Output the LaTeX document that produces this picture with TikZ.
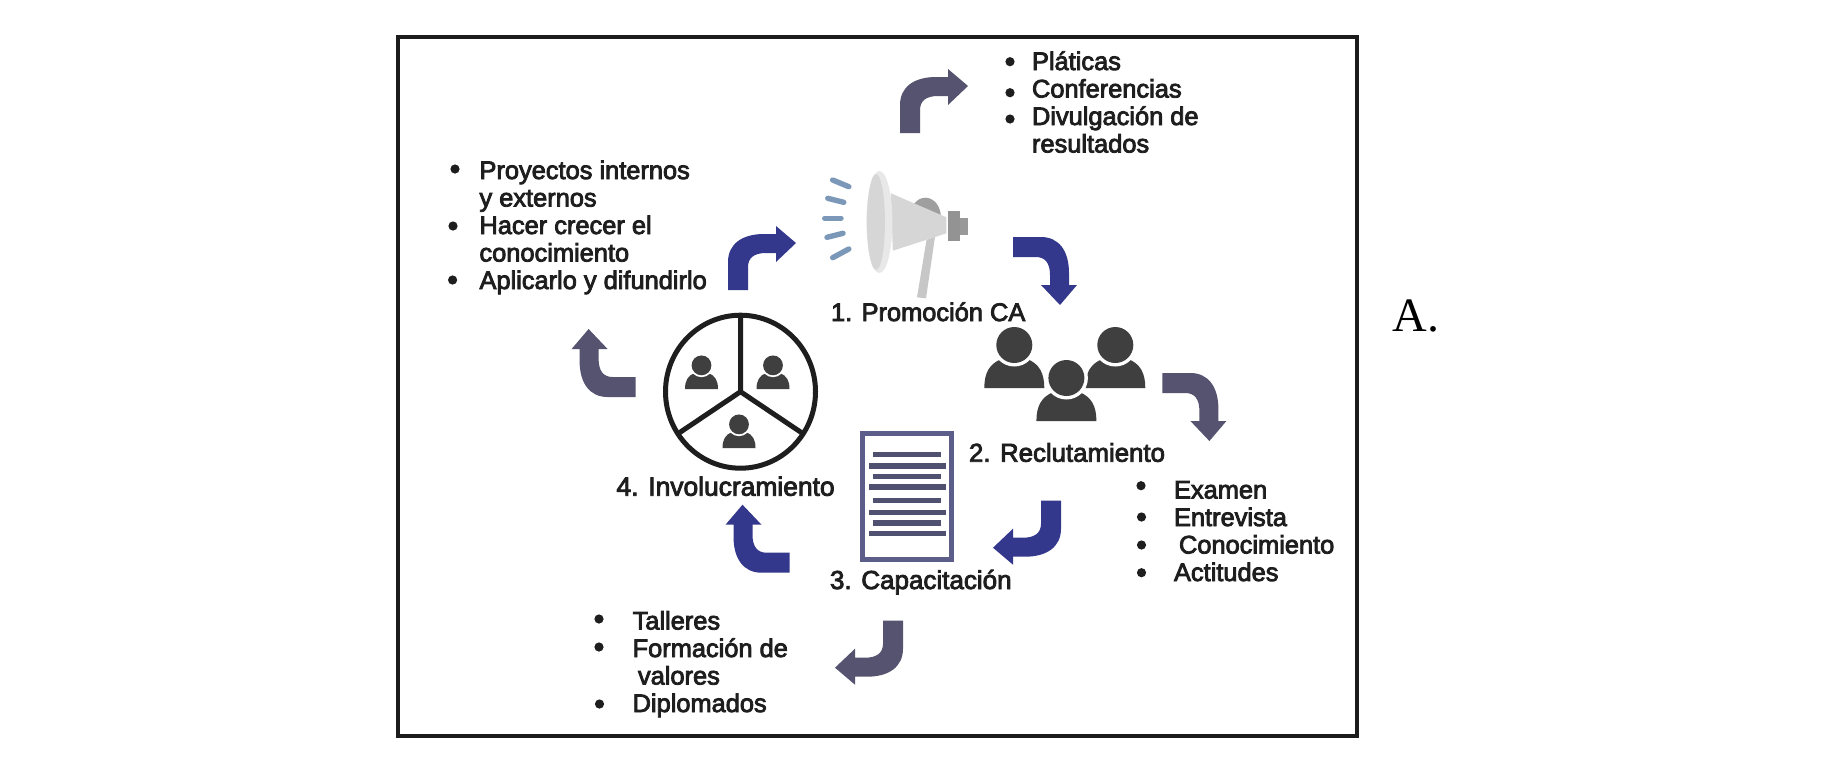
\documentclass[tikz,border=0pt]{standalone}
\usepackage{fontspec}
\setmainfont{Liberation Sans}[FakeBold=3.2]
\newfontfamily\serifA{Liberation Serif}
\definecolor{bluearrow}{HTML}{34388C}
\definecolor{grayarrow}{HTML}{55536F}
\definecolor{framecol}{HTML}{1C1C1C}
\definecolor{inkcol}{HTML}{1E1E1E}
\definecolor{personcol}{HTML}{3F3F3F}
\definecolor{docborder}{HTML}{5D5D8A}
\definecolor{docline}{HTML}{505070}
\definecolor{tickcol}{HTML}{7B98B8}
\tikzset{
  txt/.style={anchor=base west,inner sep=0pt,outer sep=0pt,text=inkcol,align=left,font=\fontsize{12.7}{13.75}\selectfont},
  dot/.style={circle,fill=inkcol,draw=none,inner sep=0pt,minimum size=4.6pt},
  tick/.style={draw=tickcol,line width=2.7pt,line cap=round},
  docrule/.style={draw=docline,line width=2.7pt}
}
\newcommand{\bentarrow}[4]{%
  \begin{scope}[shift={(#3,#4)},rotate=#2]
    \fill[#1] (0,0) -- (20,0) -- (20,-23) .. controls (20,-32) and (26,-37) .. (38,-37)
      -- (48,-37) -- (48,-28) -- (68,-47) -- (48,-64) -- (48,-56) -- (36,-56)
      .. controls (14,-56) and (0,-46) .. (0,-28) -- cycle;
  \end{scope}}
\newcommand{\personfig}[3]{%
  \begin{scope}[shift={(#1,#2)},scale=#3]
    \fill[personcol] (-30,0) .. controls (-30,-15) and (-25,-24) .. (-13,-29)
      .. controls (-6,-36) and (6,-36) .. (13,-29) .. controls (25,-24) and (30,-15) .. (30,0) -- cycle;
    \fill[white] (0,-43) circle (21.5);
    \fill[personcol] (0,-43) circle (18);
  \end{scope}}
\begin{document}
\begin{tikzpicture}[x=0.5pt,y=-0.5pt]
\useasboundingbox (0,0) rectangle (1836,778);
\fill[white] (0,0) rectangle (1836,778);
\draw[framecol,line width=1.8pt] (398,37) rectangle (1357,736);
\node[anchor=base west,inner sep=0pt,text=black,font=\serifA\fontsize{24}{28}\selectfont] (lettera) at (1392,331) {A.};

% arrows
\bentarrow{grayarrow}{0}{900}{133}
\bentarrow{bluearrow}{0}{728}{290}
\bentarrow{bluearrow}{-90}{1013}{237}
\bentarrow{grayarrow}{-90}{1162.4}{373}
\bentarrow{bluearrow}{180}{1061}{500.7}
\bentarrow{grayarrow}{180}{903}{620.7}
\bentarrow{bluearrow}{90}{789.5}{572.7}
\bentarrow{grayarrow}{90}{635.6}{397}

% megaphone
\fill[gray!75] (910,216.7) arc[start angle=180,end angle=360,x radius=15.4,y radius=19] -- cycle;
\fill[black!22] (926.5,240) -- (935,236.7) -- (926,298.3) -- (917,297.3) -- cycle;
\fill[black!16] (890.9,193.3) -- (946.4,217.3) -- (946.4,233.3) -- (892.8,250.7) -- cycle;
\fill[black!9] (879.4,222) ellipse [x radius=13,y radius=51];
\fill[black!16] (876,222) ellipse [x radius=9,y radius=48];
\fill[gray!85] (947.5,210.7) rectangle (959.8,241);
\fill[gray!80] (959.8,218.3) rectangle (967.8,235);
\draw[tick] (832.7,180) -- (848.8,186.7);
\draw[tick] (827.8,198.3) -- (843.8,202.3);
\draw[tick] (824.7,218.3) -- (841,218.3);
\draw[tick] (827,237.3) -- (843,233.3);
\draw[tick] (832.7,257.7) -- (848.8,249);

% people
\personfig{1014.3}{388}{1}
\personfig{1115.3}{388}{1}
\personfig{1066.4}{421}{1}

% circle of people
\draw[inkcol,line width=2.5pt] (740.5,391.7) ellipse [x radius=75,y radius=76.5];
\draw[inkcol,line width=2.5pt] (740.5,315) -- (740.5,391.7) -- (679,433);
\draw[inkcol,line width=2.5pt] (740.5,391.7) -- (802,433);
\personfig{701.5}{389}{0.55}
\personfig{773}{389}{0.55}
\personfig{739}{448}{0.55}

% document
\draw[docborder,line width=2.5pt] (862,433.5) rectangle (951,559.5);
\draw[docrule] (872.5,454.3) -- (940.7,454.3);
\draw[docrule] (869,466) -- (945.7,466);
\draw[docrule] (872.5,476.7) -- (940.7,476.7);
\draw[docrule] (869,487) -- (945.7,487);
\draw[docrule] (872.5,500.7) -- (940.7,500.7);
\draw[docrule] (869,512.3) -- (945.7,512.3);
\draw[docrule] (872.5,523) -- (940.7,523);
\draw[docrule] (869,533.3) -- (945.7,533.3);

% step labels
\node[txt] (promo) at (831,321) {1. Promoción CA};
\node[txt,font=\fontsize{12.9}{13.75}\selectfont] (reclu) at (969,461.7) {2. Reclutamiento};
\node[txt,font=\fontsize{13}{13.75}\selectfont] (capac) at (830,589) {3. Capacitación};
\node[txt,font=\fontsize{13.2}{13.75}\selectfont] (invol) at (616.5,495.7) {4. Involucramiento};

% lists
\node[txt] (listtop) at (1032,152.5) {Pláticas\\Conferencias\\Divulgación de\\resultados};
\node[dot] (b1) at (1010,61.7) {};
\node[dot] (b2) at (1010,92.7) {};
\node[dot] (b3) at (1010,119) {};

\node[txt] (listleft) at (479.5,289) {Proyectos internos\\y externos\\Hacer crecer el\\conocimiento\\Aplicarlo y difundirlo};
\node[dot] (b4) at (455,169) {};
\node[dot] (b5) at (453,226) {};
\node[dot] (b6) at (452.6,280) {};

\node[txt] (listright) at (1174,581) {Examen\\Entrevista\\\hspace*{2.5pt}Conocimiento\\Actitudes};
\node[dot] (b7) at (1141,485.7) {};
\node[dot] (b8) at (1141.5,517) {};
\node[dot] (b9) at (1141.5,545) {};
\node[dot] (b10) at (1141.5,572.7) {};

\node[txt] (listbottom) at (632.6,712) {Talleres\\Formación de\\\hspace*{2.7pt}valores\\Diplomados};
\node[dot] (b11) at (599,619) {};
\node[dot] (b12) at (599,647) {};
\node[dot] (b13) at (599.5,704) {};
\end{tikzpicture}
\end{document}
